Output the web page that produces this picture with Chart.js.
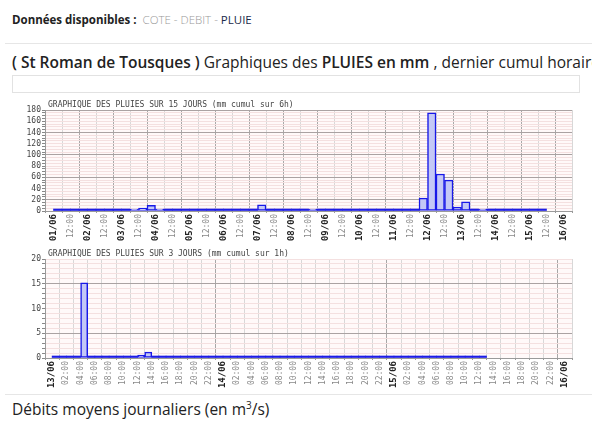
<!DOCTYPE html>
<html>
<head>
<meta charset="utf-8">
<script src="https://cdn.jsdelivr.net/npm/chart.js@4.4.1/dist/chart.umd.min.js"></script>
<style>
body { margin: 0; width: 592px; height: 421px; overflow: hidden; background: #fff; font-family: "Open Sans", sans-serif; color: #222; position: relative; }
.dispo { position: absolute; left: 12px; top: 12px; font-size: 11.5px; white-space: nowrap; }
.dispo b { color: #222; }
.dispo .off { color: #999; font-weight: 300; }
.dispo .on { color: #1a2a4a; }
.rule { position: absolute; left: 5px; right: 0; border-top: 1px solid #e6e6e6; }
.titre { position: absolute; left: 12px; top: 51px; font-size: 15.5px; white-space: nowrap; }
.titre b { font-weight: 600; }
.boite { position: absolute; left: 12px; top: 75px; width: 566px; height: 16px; border: 1px solid #e2e2e2; }
.debits { position: absolute; left: 12px; top: 398px; font-size: 15.5px; white-space: nowrap; }
.graph { position: absolute; left: 0; }
</style>
</head>
<body>
<div class="dispo"><b>Données disponibles :</b>&nbsp; <span class="off">COTE - DEBIT - </span><span class="on">PLUIE</span></div>
<div class="rule" style="top:43px"></div>
<div class="titre"><b>( St Roman de Tousques )</b> Graphiques des <b>PLUIES en mm</b> , dernier cumul horaire</div>
<div class="boite"></div>
<div class="graph" style="top:95px;width:592px;height:152px"><canvas id="g15"></canvas></div>
<div class="graph" style="top:248px;width:592px;height:144px"><canvas id="g3"></canvas></div>
<div class="rule" style="top:394px"></div>
<div class="debits">Débits moyens journaliers (en m<sup style="font-size:10px">3</sup>/s)</div>

<script>
// pluies cumul 6h, 01/06 00h -> 16/06 00h (60 pas), null = pas de donnees
var pluie6h = [
	0, 0, 0, 0,   0, 0, 0, 0,   0, 2, 5, 10,   1.5, 0, 0, 0,
	0, 0, 0, 0,   0, 0, 0, 0,   11, 0, 0, 0,   0, 0, 1, 0,
	0, 0, 0, 0,   0, 0, 0, 0,   0, 0, 0, 23,   175, 66, 55, 7,
	16.5, 0, 3, 0,   0, 0, 0, 0,   0, 0, null, null
];
var labels15 = ["01/06", "12:00", "02/06", "12:00", "03/06", "12:00", "04/06", "12:00", "05/06", "12:00",
	"06/06", "12:00", "07/06", "12:00", "08/06", "12:00", "09/06", "12:00", "10/06", "12:00",
	"11/06", "12:00", "12/06", "12:00", "13/06", "12:00", "14/06", "12:00", "15/06", "12:00", "16/06"];

// pluies cumul 1h, 13/06 00h -> 16/06 00h (72 pas)
var pluie1h = [
	0, 0, 0, 0, 15.2, 0, 0, 0, 0, 0, 0, 0, 0.6, 1.2, 0, 0, 0, 0, 0, 0, 0, 0, 0, 0,
	0, 0, 0, 0, 0, 0, 0, 0, 0, 0, 0, 0, 0, 0, 0, 0, 0, 0, 0, 0, 0, 0, 0, 0,
	0, 0, 0, 0, 0, 0, 0, 0, 0, 0, 0, 0, 0, null, null, null, null, null, null, null, null, null, null, null
];
var labels3 = ["13/06", "02:00", "04:00", "06:00", "08:00", "10:00", "12:00", "14:00", "16:00", "18:00", "20:00", "22:00",
	"14/06", "02:00", "04:00", "06:00", "08:00", "10:00", "12:00", "14:00", "16:00", "18:00", "20:00", "22:00",
	"15/06", "02:00", "04:00", "06:00", "08:00", "10:00", "12:00", "14:00", "16:00", "18:00", "20:00", "22:00", "16/06"];

var mono = "'DejaVu Sans Mono', monospace";

// fond rose + titre du graphique
var fondPlugin = {
	id: 'fond',
	beforeDraw: function (chart) {
		var a = chart.chartArea, c = chart.ctx;
		c.save();
		c.fillStyle = '#fff9f9';
		c.fillRect(a.left, a.top, a.right - a.left, a.bottom - a.top);
		c.restore();
	},
	afterDraw: function (chart) {
		var a = chart.chartArea, c = chart.ctx;
		c.save();
		c.font = '8px ' + mono;
		c.fillStyle = '#444';
		c.textBaseline = 'bottom';
		c.fillText(chart.options.plugins.fond.texte, a.left + 3, a.top - 1);
		c.restore();
	}
};

function makeChart(id, valeurs, etiquettes, pasJour, ymax, ypas, ylabel, majeur, texte, padTop, xHaut) {
	var points = [];
	for (var i = 0; i < valeurs.length; i++) {
		points.push({ x: i + 0.5, y: valeurs[i] });
	}
	var n = valeurs.length;
	var estJour = function (ctx) { return ctx.tick && ctx.tick.value % pasJour === 0; };
	return new Chart(document.getElementById(id), {
		type: 'bar',
		data: {
			datasets: [{
				data: points,
				backgroundColor: function (ctx) { return ctx.raw && ctx.raw.y === 0 ? '#1c1ce6' : '#c4c8f6'; },
				borderColor: '#1818e8',
				borderWidth: function (ctx) { return ctx.raw && ctx.raw.y === 0 ? 0 : 1.5; },
				borderSkipped: false,
				barPercentage: 1,
				categoryPercentage: 1,
				minBarLength: 2,
				clip: 4
			}]
		},
		options: {
			responsive: true,
			maintainAspectRatio: false,
			animation: false,
			layout: { padding: { top: padTop, right: 20, left: 0, bottom: 0 } },
			plugins: {
				legend: { display: false },
				tooltip: { enabled: false },
				fond: { texte: texte }
			},
			scales: {
				x: {
					type: 'linear',
					min: 0,
					max: n,
					afterFit: function (s) { s.height = xHaut; },
					grid: {
						color: function (ctx) { return estJour(ctx) ? '#a8a8a8' : '#d8d8d8'; },
						tickLength: 2,
						tickColor: '#999'
					},
					border: { color: '#9a9a9a' },
					ticks: {
						stepSize: 2,
						autoSkip: false,
						maxRotation: 90,
						minRotation: 90,
						padding: 1,
						callback: function (v) { return etiquettes[v / 2]; },
						font: function (ctx) {
							var jour = estJour(ctx);
							return { family: mono, size: jour ? 9 : 8, weight: jour ? 'bold' : 'normal' };
						},
						color: function (ctx) { return estJour(ctx) ? '#222' : '#888'; }
					}
				},
				y: {
					min: 0,
					max: ymax,
					afterFit: function (s) { s.width = 45; },
					grid: {
						color: function (ctx) {
							if (!ctx.tick) return '#f4e2e2';
							return majeur(ctx.tick.value) ? '#aaa2a2' : '#f4e0e0';
						},
						tickLength: 3,
						tickColor: '#888'
					},
					border: { color: '#9a9a9a' },
					ticks: {
						stepSize: ypas,
						autoSkip: false,
						padding: 1,
						font: { family: mono, size: 8 },
						color: '#444',
						callback: function (v) { return v % ylabel === 0 ? v : ''; }
					}
				}
			}
		},
		plugins: [fondPlugin]
	});
}

makeChart('g15', pluie6h, labels15, 4, 180, 5, 20,
	function (v) { return v % 40 === 20; },
	'GRAPHIQUE DES PLUIES SUR 15 JOURS (mm cumul sur 6h)', 15, 36);

makeChart('g3', pluie1h, labels3, 24, 20, 1, 5,
	function (v) { return v === 5 || v === 15; },
	'GRAPHIQUE DES PLUIES SUR 3 JOURS (mm cumul sur 1h)', 11, 34);
</script>
</body>
</html>
